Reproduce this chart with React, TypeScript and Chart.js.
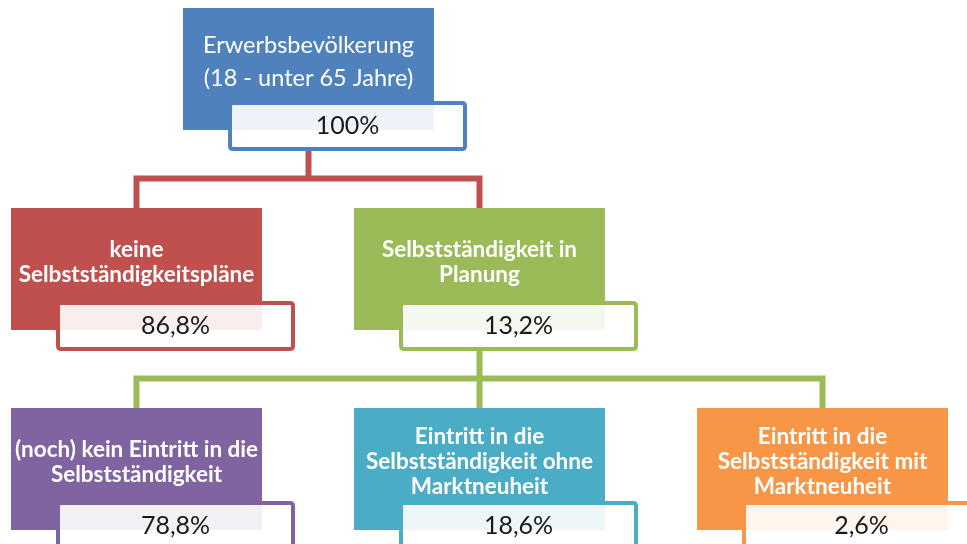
import React, { useEffect, useRef } from "react";
import { Chart, registerables } from "chart.js";

Chart.register(...registerables);

// ---- data ----
const nodeLabels: string[][] = [
  ["Erwerbsbevölkerung", "(18 - unter 65 Jahre)"],
  ["keine", "Selbstständigkeitspläne"],
  ["Selbstständigkeit in", "Planung"],
  ["(noch) kein Eintritt in die", "Selbstständigkeit"],
  ["Eintritt in die", "Selbstständigkeit ohne", "Marktneuheit"],
  ["Eintritt in die", "Selbstständigkeit mit", "Marktneuheit"],
];
const nodeValues: number[] = [100, 86.8, 13.2, 78.8, 18.6, 2.6];
const nodeParents: number[] = [-1, 0, 0, 2, 2, 2];

// ---- styles / layout (not data) ----
const nodeColors = ["#4f81bd", "#c0504d", "#9bbb59", "#8064a2", "#4bacc6", "#f79646"];
const connectorColors: Record<number, string> = { 0: "#c0504d", 2: "#9bbb59" };
const nodePos = [
  { x: 183, y: 8 },
  { x: 11, y: 208 },
  { x: 354, y: 208 },
  { x: 11, y: 408 },
  { x: 354, y: 408 },
  { x: 697, y: 408 },
];
const BOX_W = 251;
const BOX_H = 122;
const VAL_DX = 47;
const VAL_DY = 95;
const VAL_W = 235;
const VAL_H = 46;

const fmt = (v: number) =>
  (Number.isInteger(v) ? String(v) : v.toFixed(1).replace(".", ",")) + "%";

function roundRect(ctx: CanvasRenderingContext2D, x: number, y: number, w: number, h: number, r: number) {
  ctx.beginPath();
  ctx.moveTo(x + r, y);
  ctx.lineTo(x + w - r, y);
  ctx.quadraticCurveTo(x + w, y, x + w, y + r);
  ctx.lineTo(x + w, y + h - r);
  ctx.quadraticCurveTo(x + w, y + h, x + w - r, y + h);
  ctx.lineTo(x + r, y + h);
  ctx.quadraticCurveTo(x, y + h, x, y + h - r);
  ctx.lineTo(x, y + r);
  ctx.quadraticCurveTo(x, y, x + r, y);
  ctx.closePath();
}

const treePlugin = {
  id: "treePlugin",
  afterDatasetsDraw(chart: any) {
    const ctx: CanvasRenderingContext2D = chart.ctx;
    const sx = chart.scales.x;
    const sy = chart.scales.y;
    const px = (v: number) => sx.getPixelForValue(v);
    const py = (v: number) => sy.getPixelForValue(v);
    ctx.save();

    // connectors
    const parents = Array.from(new Set(nodeParents.filter((p) => p >= 0)));
    parents.forEach((p) => {
      const kids = nodeParents.map((q, i) => (q === p ? i : -1)).filter((i) => i >= 0);
      const pcx = nodePos[p].x + BOX_W / 2;
      const pBottom = nodePos[p].y + VAL_DY + VAL_H;
      const cTop = nodePos[kids[0]].y;
      const busY = (pBottom + cTop) / 2;
      ctx.strokeStyle = connectorColors[p] || nodeColors[p];
      ctx.lineWidth = 6;
      ctx.lineJoin = "miter";
      ctx.beginPath();
      ctx.moveTo(px(pcx), py(pBottom));
      ctx.lineTo(px(pcx), py(busY));
      ctx.stroke();
      const xs = kids.map((k) => nodePos[k].x + BOX_W / 2);
      ctx.beginPath();
      ctx.moveTo(px(xs[0]), py(cTop));
      ctx.lineTo(px(xs[0]), py(busY));
      ctx.lineTo(px(xs[xs.length - 1]), py(busY));
      ctx.lineTo(px(xs[xs.length - 1]), py(cTop));
      ctx.stroke();
      xs.slice(1, -1).forEach((x) => {
        ctx.beginPath();
        ctx.moveTo(px(x), py(busY));
        ctx.lineTo(px(x), py(cTop));
        ctx.stroke();
      });
    });

    // boxes
    nodeLabels.forEach((lines, i) => {
      const { x, y } = nodePos[i];
      const col = nodeColors[i];
      ctx.fillStyle = col;
      ctx.fillRect(px(x), py(y), px(x + BOX_W) - px(x), py(y + BOX_H) - py(y));

      // label
      const top = i === 0;
      const lh = top ? 33 : 25;
      ctx.font = top ? "400 23.5px Lato" : "700 22.5px Lato";
      ctx.fillStyle = "#ffffff";
      ctx.textAlign = "center";
      ctx.textBaseline = "middle";
      const cy = y + 54;
      lines.forEach((ln, j) => {
        const ly = cy + (j - (lines.length - 1) / 2) * lh;
        ctx.fillText(ln, px(x + BOX_W / 2), py(ly));
      });

      // value box
      const vx = x + VAL_DX;
      const vy = y + VAL_DY;
      roundRect(ctx, px(vx), py(vy), px(vx + VAL_W) - px(vx), py(vy + VAL_H) - py(vy), 3);
      ctx.fillStyle = "rgba(255,255,255,0.9)";
      ctx.fill();
      ctx.strokeStyle = col;
      ctx.lineWidth = 4;
      ctx.stroke();

      ctx.fillStyle = "#1a1a1a";
      ctx.font = "400 25px Lato";
      ctx.fillText(fmt(nodeValues[i]), px(vx + VAL_W / 2), py(vy + VAL_H / 2));
    });
    ctx.restore();
  },
};

export default function App() {
  const ref = useRef<HTMLCanvasElement | null>(null);
  useEffect(() => {
    document.body.style.margin = "0";
    if (!ref.current) return;
    const chart = new Chart(ref.current, {
      type: "scatter",
      data: {
        datasets: [
          {
            data: nodePos.map((p, i) => ({ x: p.x + BOX_W / 2, y: p.y + BOX_H / 2, v: nodeValues[i] })) as any,
            pointRadius: 0,
            pointHoverRadius: 0,
          },
        ],
      },
      options: {
        animation: false,
        responsive: false,
        layout: { padding: 0 },
        plugins: { legend: { display: false }, tooltip: { enabled: false } },
        scales: {
          x: { type: "linear", min: 0, max: 967, display: false },
          y: { type: "linear", min: 0, max: 544, reverse: true, display: false },
        },
      },
      plugins: [treePlugin],
    });
    document.fonts?.ready.then(() => chart.draw());
    return () => chart.destroy();
  }, []);
  return (
    <div style={{ width: 967, height: 544, background: "#ffffff" }}>
      <canvas ref={ref} width={967} height={544} />
    </div>
  );
}
